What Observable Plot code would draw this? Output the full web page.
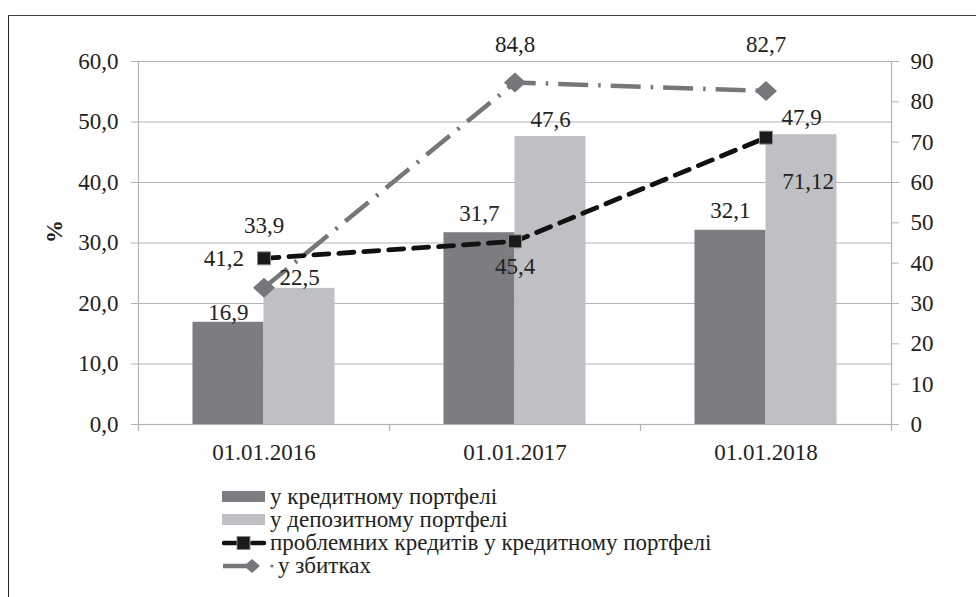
<!DOCTYPE html>
<html>
<head>
<meta charset="utf-8">
<script src="https://cdn.jsdelivr.net/npm/d3@7"></script>
<script src="https://cdn.jsdelivr.net/npm/@observablehq/plot@0.6"></script>
<style>
  html, body { margin: 0; padding: 0; background: #fff; }
  body { width: 976px; height: 597px; position: relative; overflow: hidden; font-family: "Liberation Serif", "Times New Roman", Tinos, "DejaVu Serif", serif; }
  #frame { position: absolute; left: 8px; top: 15px; width: 1000px; height: 700px; border-top: 1.5px solid #444; border-left: 1.5px solid #222; }
  #chart { position: absolute; left: 0; top: 0; }
  #legend { position: absolute; left: 222px; top: 485px; font-size: 23px; color: #222; line-height: 23px; }
  .row { display: flex; align-items: center; height: 23px; white-space: nowrap; }
  .row svg { flex: none; }
  svg text { font-family: "Liberation Serif", "Times New Roman", Tinos, "DejaVu Serif", serif; }
</style>
</head>
<body>
<div id="frame"></div>
<div id="chart"></div>
<div id="legend"></div>
<script>
const categories = ["01.01.2016", "01.01.2017", "01.01.2018"];
const creditPortfolio = [16.9, 31.7, 32.1];
const depositPortfolio = [22.5, 47.6, 47.9];
const problemLoans = [41.2, 45.4, 71.12];
const losses = [33.9, 84.8, 82.7];
const leftTicks = [0, 10, 20, 30, 40, 50, 60];
const rightTicks = [0, 10, 20, 30, 40, 50, 60, 70, 80, 90];
const seriesNames = [
  "у кредитному портфелі",
  "у депозитному портфелі",
  "проблемних кредитів у кредитному портфелі",
  "у збитках"
];
const yUnit = "%";

const W = 976, H = 470;
const mL = 138, mR = 85, mT = 61, mB = 46;
const leftMax = 60, rightMax = 90;
const k = leftMax / rightMax;           // right-axis values mapped onto left scale
const step = (W - mL - mR) / categories.length;
const pInner = 0.717, pOuter = pInner / 2;
const bw = step * (1 - pInner);

const darkFill = "#7c7d81", lightFill = "#bfc0c4";
const gridColor = "#b4b4b4";
const textColor = "#222";
const fontSize = 23;
const serif = "'Liberation Serif', 'Times New Roman', Tinos, 'DejaVu Serif', serif";

const rows = categories.map((c, i) => ({
  cat: c,
  credit: creditPortfolio[i],
  deposit: depositPortfolio[i],
  problem: problemLoans[i],
  loss: losses[i]
}));
const fmt = v => String(v).replace(".", ",");

const diamond = {
  draw(ctx, size) {
    const s = Math.sqrt(size / 2);
    ctx.moveTo(0, -s); ctx.lineTo(s * 1.1, 0); ctx.lineTo(0, s); ctx.lineTo(-s * 1.1, 0); ctx.closePath();
  }
};

function lbl(i, key, scale, opts) {
  return Plot.text([rows[i]], {
    x: "cat", y: d => d[key] * scale, text: d => fmt(d[key]),
    fontSize, fill: textColor, fontFamily: serif, ...opts
  });
}

const chart = Plot.plot({
  width: W, height: H,
  marginLeft: mL, marginRight: mR, marginTop: mT, marginBottom: mB,
  style: { fontFamily: serif, fontSize: fontSize + "px", color: textColor, background: "transparent" },
  x: { domain: categories, paddingInner: pInner, paddingOuter: pOuter, align: 0.5, axis: null },
  y: { domain: [0, leftMax], axis: null },
  marks: [
    Plot.gridY(leftTicks, { stroke: gridColor, strokeOpacity: 1, strokeWidth: 1.2 }),
    Plot.frame({ stroke: gridColor, strokeWidth: 1.2 }),
    Plot.axisY(leftTicks, {
      anchor: "left", tickSize: 7, tickPadding: 13, stroke: gridColor,
      tickFormat: d => d.toFixed(1).replace(".", ","), label: null, fontSize, fill: textColor, fontFamily: serif
    }),
    Plot.axisY(rightTicks.map(v => v * k), {
      anchor: "right", tickSize: 7, tickPadding: 12, stroke: gridColor,
      tickFormat: d => String(Math.round(d / k)), label: null, fontSize, fill: textColor, fontFamily: serif
    }),
    Plot.axisX(categories, { anchor: "bottom", tickSize: 0, tickPadding: 19, label: null, fontSize, fill: textColor, fontFamily: serif }),
    Plot.ruleX(categories, { x: d => d, y1: 0, y2: 0, dx: -step / 2, insetBottom: -7, stroke: gridColor, strokeWidth: 1.2 }),
    Plot.ruleX(categories.slice(-1), { x: d => d, y1: 0, y2: 0, dx: step / 2, insetBottom: -7, stroke: gridColor, strokeWidth: 1.2 }),
    Plot.text([yUnit], { frameAnchor: "left", dx: -84, rotate: -90, fontWeight: "bold", fontSize, fill: textColor, fontFamily: serif }),
    Plot.barY(rows, { x: "cat", y: "credit", dx: -bw / 2, fill: darkFill }),
    Plot.barY(rows, { x: "cat", y: "deposit", dx: bw / 2, fill: lightFill }),
    Plot.line(rows, { x: "cat", y: d => d.loss * k, stroke: "#76777a", strokeWidth: 4.5, strokeDasharray: "30,10,2.5,10", strokeLinecap: "butt" }),
    Plot.line(rows, { x: "cat", y: d => d.problem * k, stroke: "#111", strokeWidth: 4.8, strokeDasharray: "15,10", strokeLinecap: "round" }),
    Plot.dot(rows, { x: "cat", y: d => d.loss * k, symbol: diamond, r: 8, fill: "#76777a", stroke: "none" }),
    Plot.dot(rows, { x: "cat", y: d => d.problem * k, symbol: "square", r: 7.3, fill: "#1a1a1a", stroke: "#8a8a8a", strokeWidth: 1 }),
    ...rows.map((r, i) => lbl(i, "credit", 1, { dx: -bw / 2, lineAnchor: "bottom", dy: i === 0 ? -2 : -12 })),
    ...rows.map((r, i) => lbl(i, "deposit", 1, { dx: bw / 2, lineAnchor: "bottom", dy: i === 0 ? -3 : -10 })),
    lbl(0, "problem", k, { textAnchor: "end", dx: -20, lineAnchor: "middle" }),
    lbl(1, "problem", k, { lineAnchor: "top", dy: 16 }),
    lbl(2, "problem", k, { lineAnchor: "middle", dx: 42, dy: 44 }),
    lbl(0, "loss", k, { lineAnchor: "middle", dy: -62 }),
    lbl(1, "loss", k, { lineAnchor: "middle", dy: -38 }),
    lbl(2, "loss", k, { lineAnchor: "middle", dy: -46 })
  ]
});
document.getElementById("chart").appendChild(chart);

const legend = document.getElementById("legend");
const swatches = [
  `<svg width="46" height="20"><rect x="0" y="4" width="43" height="11" fill="${darkFill}"/></svg>`,
  `<svg width="46" height="20"><rect x="0" y="4" width="43" height="11" fill="${lightFill}"/></svg>`,
  `<svg width="46" height="20"><line x1="2" y1="10" x2="14" y2="10" stroke="#111" stroke-width="4.5" stroke-linecap="round"/><line x1="30" y1="10" x2="42" y2="10" stroke="#111" stroke-width="4.5" stroke-linecap="round"/><rect x="15" y="3.5" width="13" height="13" fill="#1a1a1a" stroke="#8a8a8a" stroke-width="1"/></svg>`,
  `<svg width="56" height="20"><line x1="1" y1="10" x2="30" y2="10" stroke="#76777a" stroke-width="4.5"/><path d="M22,10 L30,3 L38,10 L30,17 Z" fill="#76777a"/><circle cx="50" cy="10" r="1.6" fill="#76777a"/></svg>`
];
seriesNames.forEach((name, i) => {
  const row = document.createElement("div");
  row.className = "row";
  row.innerHTML = swatches[i] + `<span style="margin-left:${i === 3 ? 0 : 2}px">${name}</span>`;
  legend.appendChild(row);
});
</script>
</body>
</html>
